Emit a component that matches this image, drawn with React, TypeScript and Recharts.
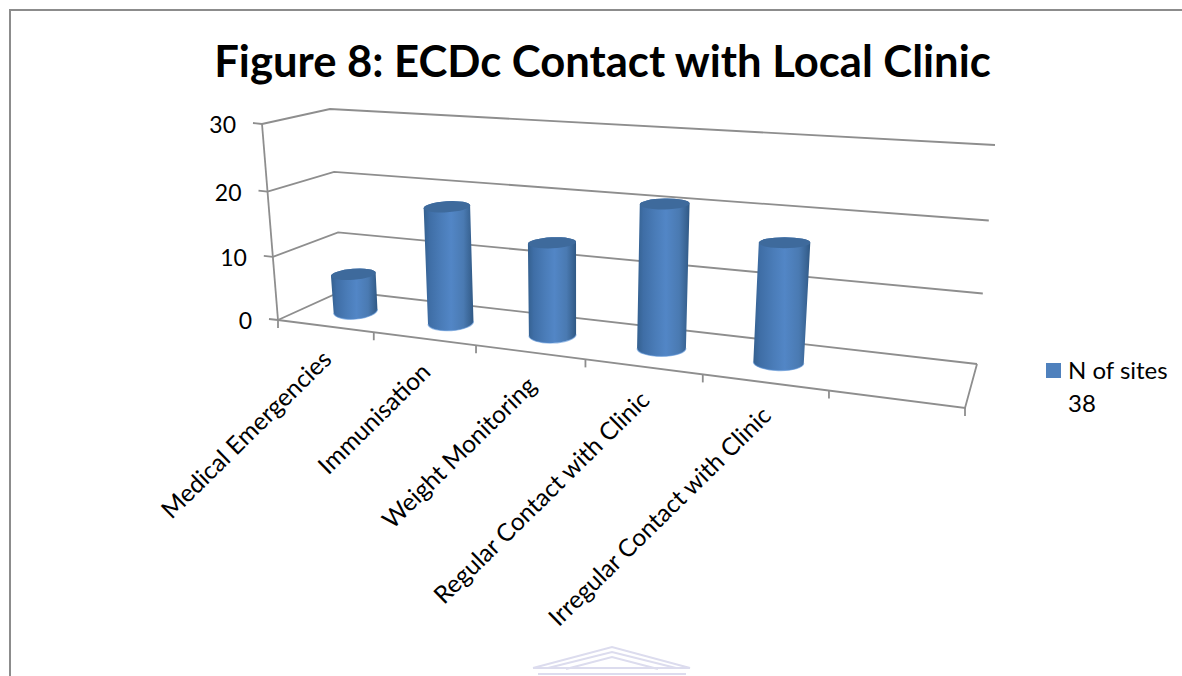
import React from "react";
import { BarChart, Bar, XAxis, YAxis, Legend, CartesianGrid } from "recharts";

const CHART_TITLE = "Figure 8: ECDc Contact with Local Clinic";
const SERIES_NAME = "N of sites 38";
const categories = [
  "Medical Emergencies",
  "Immunisation",
  "Weight Monitoring",
  "Regular Contact with Clinic",
  "Irregular Contact with Clinic",
  " ",
];
const siteCounts: (number | null)[] = [6, 18, 14, 21, 17, null];
const valueTicks = [0, 10, 20, 30];

const rows = categories.map((name, i) => ({ name, sites: siteCounts[i] }));

const WIDTH = 1182;
const HEIGHT = 676;
const PLOT = { left: 278, right: 965, top: 124, bottom: 320 };
const FONT = "Lato, Carlito, 'Open Sans', sans-serif";
const GRID = "#8e8e8e";
const GRID_WIDTH = 1.8;

type Pt = [number, number];
// Corners of the 3D box: front/back, left/right, floor/ceiling.
const box = {
  fl0: [278, 320] as Pt,
  fl1: [262, 124] as Pt,
  bl0: [342, 291] as Pt,
  bl1: [330, 109] as Pt,
  fr0: [965, 408] as Pt,
  fr1: [989, 172] as Pt,
  br0: [977, 364] as Pt,
  br1: [995, 145] as Pt,
};

const mix = (a: Pt, b: Pt, t: number): Pt => [a[0] + (b[0] - a[0]) * t, a[1] + (b[1] - a[1]) * t];
const foreshorten = (t: number, k: number) => (k * t) / (1 + (k - 1) * t);

// u: along the categories, v: up the value axis, d: into the depth of the box.
function project(u: number, v: number, d: number): Pt {
  const f = foreshorten(u, 0.81);
  const g = foreshorten(v, 0.95);
  const front = mix(mix(box.fl0, box.fr0, f), mix(box.fl1, box.fr1, f), g);
  const back = mix(mix(box.bl0, box.br0, f), mix(box.bl1, box.br1, f), g);
  return mix(front, back, d);
}

const toU = (x: number) => (x - PLOT.left) / (PLOT.right - PLOT.left);
const toV = (y: number) => (PLOT.bottom - y) / (PLOT.bottom - PLOT.top);
const pts = (list: Pt[]) => list.map((p) => `${p[0].toFixed(1)},${p[1].toFixed(1)}`).join(" ");

// One level of the grid: side wall and rear wall, plus the floor outline and
// the upright axis for the levels at either end of the scale.
function WallLine({ y1 }: any) {
  const v = toV(y1);
  const corner = project(0, v, 0);
  const rear = project(0, v, 1);
  const end = project(1, v, 1);
  const isFloor = v < 0.001;
  const isCeiling = v > 0.999;
  return (
    <g fill="none" stroke={GRID} strokeWidth={GRID_WIDTH}>
      <polyline points={pts([corner, rear, end])} />
      {isFloor && <polyline points={pts([corner, project(1, 0, 0), end])} />}
      {isCeiling && <polyline points={pts([project(0, 0, 0), corner])} />}
    </g>
  );
}

function ValueTick({ y, payload }: any) {
  const corner = project(0, toV(y), 0);
  const stub: Pt = [corner[0] - 9, corner[1] - 1];
  return (
    <g>
      <polyline points={pts([stub, corner])} fill="none" stroke={GRID} strokeWidth={GRID_WIDTH} />
      <text
        x={stub[0] - 17}
        y={corner[1] + 9}
        textAnchor="end"
        fontFamily={FONT}
        fontSize={23}
        fill="#000"
      >
        {payload.value}
      </text>
    </g>
  );
}

function CategoryTick({ x, payload, index }: any) {
  const step = 1 / categories.length;
  const u = toU(x);
  const left = project(u - step / 2, 0, 0);
  const right = project(u + step / 2, 0, 0);
  const mid = project(u, 0, 0);
  const ax = mid[0] + 8;
  const ay = mid[1] + 35;
  return (
    <g>
      <line x1={left[0]} y1={left[1]} x2={left[0]} y2={left[1] + 8} stroke={GRID} strokeWidth={GRID_WIDTH} />
      {index === categories.length - 1 && (
        <line x1={right[0]} y1={right[1]} x2={right[0]} y2={right[1] + 8} stroke={GRID} strokeWidth={GRID_WIDTH} />
      )}
      <text
        x={ax}
        y={ay}
        textAnchor="end"
        transform={`rotate(-44.5 ${ax} ${ay})`}
        fontFamily={FONT}
        fontSize={24.5}
        fill="#000"
      >
        {payload.value}
      </text>
    </g>
  );
}

function Cylinder({ x, y, width, height, index }: any) {
  if (height == null || height <= 0) return null;
  const uc = toU(x + width / 2);
  const base = project(uc, 0, 0.5);
  const top = project(uc, toV(y), 0.5);
  const rx = (width / 2) * (0.88 + 0.2 * uc);
  const f = foreshorten(uc, 0.81);
  const baseTilt = -6 + 11 * f;
  const topTilt = -5 + 7 * f;
  const rim = (c: Pt, r: number, deg: number, side: number): Pt => {
    const a = (deg * Math.PI) / 180;
    return [c[0] + side * r * Math.cos(a), c[1] + side * r * Math.sin(a)];
  };
  const bl = rim(base, rx, baseTilt, -1);
  const br = rim(base, rx, baseTilt, 1);
  const tl = rim(top, rx * 1.02, topTilt, -1);
  const tr = rim(top, rx * 1.02, topTilt, 1);
  const id = `cyl-${index}`;
  const bottomArc = `M${bl[0]},${bl[1]} A${rx},8 ${baseTilt} 0 0 ${br[0]},${br[1]}`;
  return (
    <g>
      <defs>
        <linearGradient id={id} x1="0" y1="0" x2="1" y2="0">
          <stop offset="0" stopColor="#34608f" />
          <stop offset="0.12" stopColor="#3f6ea6" />
          <stop offset="0.35" stopColor="#4a7cb8" />
          <stop offset="0.55" stopColor="#5286c6" />
          <stop offset="0.8" stopColor="#4a7ab2" />
          <stop offset="0.93" stopColor="#3a6595" />
          <stop offset="1" stopColor="#2f5884" />
        </linearGradient>
      </defs>
      <path
        d={`${bottomArc} L${tr[0]},${tr[1]} A${rx * 1.02},5.5 ${topTilt} 0 0 ${tl[0]},${tl[1]} Z`}
        fill={`url(#${id})`}
      />
      <path d={bottomArc} fill="none" stroke="#5b93d6" strokeWidth={1.2} strokeOpacity={0.6} />
      <ellipse
        cx={top[0]}
        cy={top[1]}
        rx={rx * 1.02}
        ry={5.5}
        fill="#3e6a9c"
        transform={`rotate(${topTilt} ${top[0]} ${top[1]})`}
      />
    </g>
  );
}

function LegendBox({ payload }: any) {
  const item = payload?.[0];
  if (!item) return null;
  return (
    <div style={{ position: "relative", paddingLeft: 22, fontFamily: FONT, fontSize: 24, lineHeight: "33px", color: "#000" }}>
      <span
        style={{ position: "absolute", left: 0, top: 10, width: 15, height: 15, background: "#4f81bd" }}
      />
      {item.value}
    </div>
  );
}

export default function App() {
  return (
    <div style={{ position: "absolute", left: 0, top: 0, width: WIDTH, height: HEIGHT, background: "#fff", overflow: "hidden" }}>
      <BarChart
        width={WIDTH}
        height={HEIGHT}
        data={rows}
        margin={{
          left: PLOT.left - 1,
          right: WIDTH - PLOT.right,
          top: PLOT.top,
          bottom: HEIGHT - PLOT.bottom - 1,
        }}
        barCategoryGap={33}
      >
        <path d={`M10,${HEIGHT} V10 H${WIDTH}`} fill="none" stroke="#8c8c8c" strokeWidth={2} />
        <text
          x={602.5}
          y={76.5}
          textAnchor="middle"
          fontFamily={FONT}
          fontSize={43.6}
          fontWeight={700}
          fill="#000"
        >
          {CHART_TITLE}
        </text>
        <g fill="none" stroke="#dcdcee" strokeWidth={2}>
          <polyline points="533,668 612,647 690,668 533,668" />
          <polyline points="548,668 612,652 676,668" />
          <polyline points="566,669 612,657 658,669" />
          <line x1="538" y1="674" x2="686" y2="674" />
        </g>
        <CartesianGrid vertical={false} horizontal={<WallLine />} />
        <XAxis
          dataKey="name"
          height={1}
          interval={0}
          axisLine={false}
          tickLine={false}
          tick={<CategoryTick />}
        />
        <YAxis
          width={1}
          domain={[0, 30]}
          ticks={valueTicks}
          interval={0}
          axisLine={false}
          tickLine={false}
          tick={<ValueTick />}
        />
        <Legend
          layout="vertical"
          align="center"
          verticalAlign="middle"
          content={<LegendBox />}
          wrapperStyle={{ left: 1046, top: 353, width: 130 }}
        />
        <Bar
          dataKey="sites"
          name={SERIES_NAME}
          fill="#4f81bd"
          isAnimationActive={false}
          shape={<Cylinder />}
        />
      </BarChart>
    </div>
  );
}
